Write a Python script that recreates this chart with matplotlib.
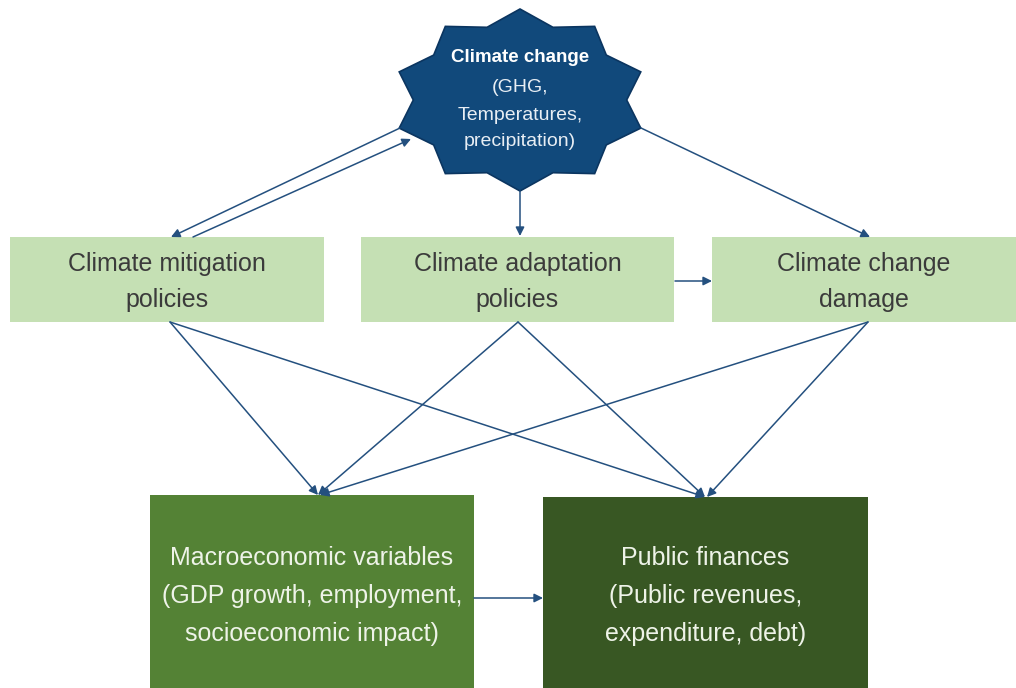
import numpy as np
import matplotlib
matplotlib.use("Agg")
import matplotlib.pyplot as plt
from matplotlib.patches import Polygon, Rectangle

# ---- content ----
star_title = "Climate change"
star_lines = ["(GHG,", "Temperatures,", "precipitation)"]
policy_labels = ["Climate mitigation\npolicies", "Climate adaptation\npolicies", "Climate change\ndamage"]
outcome_labels = ["Macroeconomic variables\n(GDP growth, employment,\nsocioeconomic impact)",
                  "Public finances\n(Public revenues,\nexpenditure, debt)"]

# ---- layout (pixel coordinates, y downwards) ----
W, H = 1016, 688
fig = plt.figure(figsize=(W / 100, H / 100), dpi=100)
ax = fig.add_axes([0, 0, 1, 1])
ax.set_xlim(0, W)
ax.set_ylim(H, 0)
ax.axis("off")

regular = ["Liberation Sans", "DejaVu Sans"]

STAR_C = "#11497B"
LIGHT = "#C5E0B4"
MACRO = "#548235"
PUBLIC = "#385723"
ARROW = "#24507F"

# star (10 points)
cx, cy, rx, ry, k = 520, 100, 127, 91, 0.84
pts = []
for i in range(20):
    ang = np.deg2rad(i * 18)
    r = 1.0 if i % 2 == 0 else k
    pts.append((cx + rx * r * np.sin(ang), cy - ry * r * np.cos(ang)))
ax.add_patch(Polygon(pts, closed=True, facecolor=STAR_C, edgecolor="#0B3560", lw=1.2, zorder=3))
ax.text(cx, 58, star_title, ha="center", va="center", color="white", fontsize=13.5,
        fontweight="bold", family=regular, zorder=4)
for y, s in zip([87, 115, 142], star_lines):
    ax.text(cx, y, s, ha="center", va="center", color="#E8EEF4", fontsize=14,
            family=regular, zorder=4)

# policy boxes
policy_boxes = [(10, 237, 314, 85), (361, 237, 313, 85), (712, 237, 304, 85)]
for (x, y, w, h), lab in zip(policy_boxes, policy_labels):
    ax.add_patch(Rectangle((x, y), w, h, facecolor=LIGHT, edgecolor="none", zorder=2))
    ax.text(x + w / 2, 282, lab, ha="center", va="center", color="#3B3B3B",
            fontsize=18, family=regular, linespacing=1.6, zorder=4)

# outcome boxes
outcome_boxes = [(150, 495, 324, 200), (543, 497, 325, 200)]
for (x, y, w, h), lab, c in zip(outcome_boxes, outcome_labels, [MACRO, PUBLIC]):
    ax.add_patch(Rectangle((x, y), w, h, facecolor=c, edgecolor="none", zorder=2))
    ax.text(x + w / 2, 596, lab, ha="center", va="center", color="#EEF3E8",
            fontsize=18, family=regular, linespacing=1.72, zorder=4)

# arrows
edges = [
    ((400, 128), (171, 237)),
    ((193, 237), (411, 139)),
    ((520, 191), (520, 236)),
    ((641, 128), (870, 237)),
    ((675, 281), (712, 281)),
    ((170, 322), (318, 495)),
    ((170, 322), (705, 497)),
    ((518, 322), (318, 495)),
    ((518, 322), (705, 497)),
    ((868, 322), (320, 495)),
    ((868, 322), (707, 497)),
    ((474, 598), (543, 598)),
]
for (x0, y0), (x1, y1) in edges:
    ax.annotate("", xy=(x1, y1), xytext=(x0, y0),
                arrowprops=dict(arrowstyle="-|>", color=ARROW, lw=1.1,
                                mutation_scale=13, shrinkA=0, shrinkB=0),
                zorder=5)

fig.savefig("out.png", dpi=100, facecolor="white")
